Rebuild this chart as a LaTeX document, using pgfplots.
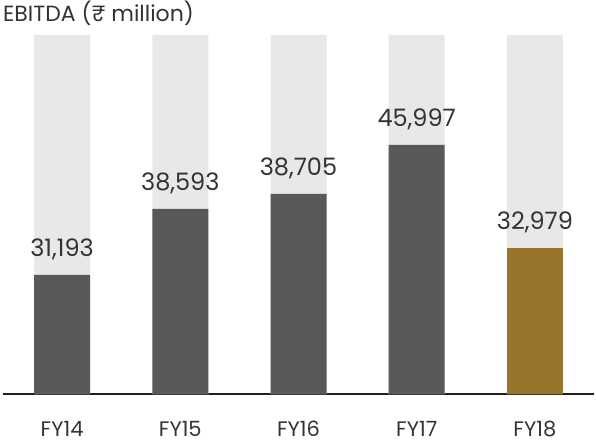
\documentclass[border=0pt]{standalone}
\usepackage{fontspec}
\setmainfont{Poppins}
\usepackage{pgfplots}
\usepackage{pgfplotstable}
\pgfplotsset{compat=1.18}
\definecolor{bgbar}{HTML}{E8E8E8}
\definecolor{darkbar}{HTML}{58595B}
\definecolor{goldbar}{HTML}{98752B}
\definecolor{baseclr}{HTML}{231F20}
\definecolor{txtclr}{HTML}{333333}

% h = drawn bar height, val = printed label
\pgfplotstableread{
x h val
0 119 31193
1 185 38593
2 200 38705
3 249 45997
}\pastdata
\pgfplotstableread{
x h val
4 146 32979
}\currdata

\begin{document}
\begin{tikzpicture}
\useasboundingbox (-3bp,-52bp) rectangle (593bp,394bp);
\begin{axis}[
  scale only axis,
  width=591bp, height=359bp,
  xmin=-0.5, xmax=4.5,
  ymin=0, ymax=359,
  clip=false,
  ybar,
  bar width=56bp,
  axis y line=none,
  axis x line*=bottom,
  x axis line style={line width=2.5bp, baseclr},
  xtick={0,1,2,3,4},
  xticklabels={FY14,FY15,FY16,FY17,FY18},
  major tick length=0pt,
  xticklabel style={font=\fontsize{21bp}{24bp}\selectfont, text=txtclr,
    anchor=base, yshift=-42bp, inner sep=0pt, text depth=0pt},
  /pgf/number format/assume math mode=true,
  nodes near coords={\pgfmathprintnumber[1000 sep={,}]{\pgfplotspointmeta}},
  nodes near coords style={font=\fontsize{24bp}{28bp}\selectfont, text=txtclr,
    anchor=base, yshift=18bp, inner sep=0pt},
]
% light background columns
\addplot[fill=bgbar, draw=none, bar shift=0pt, nodes near coords={}]
  coordinates {(0,359) (1,359) (2,359) (3,359) (4,359)};
\addplot[fill=darkbar, draw=none, bar shift=0pt, point meta=explicit]
  table[x=x, y=h, meta=val] {\pastdata};
\addplot[fill=goldbar, draw=none, bar shift=0pt, point meta=explicit]
  table[x=x, y=h, meta=val] {\currdata};
\end{axis}
\node[anchor=base west, inner sep=0pt, text=txtclr,
  font=\fontsize{22bp}{26bp}\selectfont] at (0bp,372bp) {EBITDA (₹ million)};
\end{tikzpicture}
\end{document}
